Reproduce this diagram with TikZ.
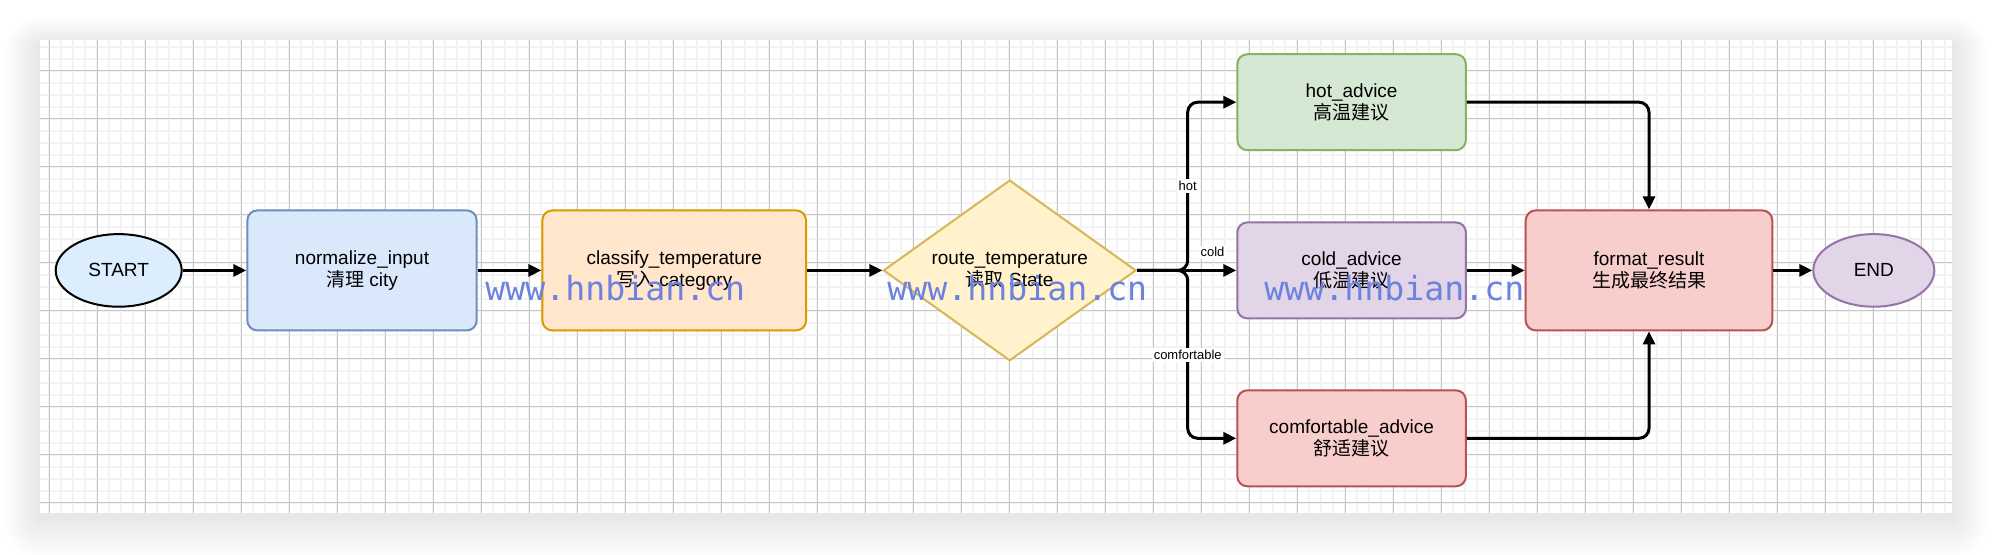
\documentclass[tikz,border=0pt]{standalone}
\usepackage{fontspec}
\setmainfont{Liberation Sans}
\newfontfamily\cjk{Noto Sans CJK SC}
\newfontfamily\wmfont{DejaVu Sans Mono}
\usetikzlibrary{shapes.geometric,arrows.meta,calc}
\definecolor{startfill}{HTML}{DCEEFD}
\definecolor{bluefill}{HTML}{DAE8FC}\definecolor{bluedraw}{HTML}{6C8EBF}
\definecolor{orfill}{HTML}{FFE6CC}\definecolor{ordraw}{HTML}{D79B00}
\definecolor{yefill}{HTML}{FFF2CC}\definecolor{yedraw}{HTML}{D6B656}
\definecolor{grfill}{HTML}{D5E8D4}\definecolor{grdraw}{HTML}{82B366}
\definecolor{pufill}{HTML}{E1D5E7}\definecolor{pudraw}{HTML}{9673A6}
\definecolor{refill}{HTML}{F8CECC}\definecolor{redraw}{HTML}{B85450}
\definecolor{gridmajor}{HTML}{C6C6C6}
\definecolor{gridminor}{HTML}{F3F3F3}
\definecolor{wm}{RGB}{108,130,222}
\begin{document}
\begin{tikzpicture}[x=0.5pt,y=-0.5pt,
  mainfont/.style={font=\fontsize{9.5}{11.2}\selectfont},
  box/.style={draw, rounded corners=5pt, line width=1pt, align=center,
    inner sep=0pt, mainfont},
  oval/.style={ellipse, draw, line width=1pt, inner sep=0pt, mainfont},
  edge/.style={line width=1.5pt, -{Triangle[length=6.5pt,width=6pt]}},
  elabel/.style={fill=white, inner sep=1pt, font=\fontsize{6.5}{7.8}\selectfont},
  wmark/.style={anchor=base west, inner sep=0pt, text=wm,
    font=\wmfont\fontsize{16.6}{18}\selectfont}]
\useasboundingbox (0,0) rectangle (1992,554);
\fill[white] (0,0) rectangle (1992,554);
% soft shadow of the panel
\foreach \k in {1,...,24}
  \fill[black, opacity=0.0045, rounded corners={0.8pt*\k}]
    ({40-1.5*\k},{46-1.2*\k}) rectangle ({1952+1.5*\k},{516+1.8*\k});
\fill[white] (40,40) rectangle (1952,513.3);
\begin{scope}
  \clip (40,40) rectangle (1952,513.3);
  \foreach \i in {0,...,158} \draw[gridminor, line width=0.9pt] ({49.3+12*\i},40) -- ({49.3+12*\i},513.3);
  \foreach \i in {0,...,38} \draw[gridminor, line width=0.9pt] (40,{46.7+12*\i}) -- (1952,{46.7+12*\i});
  \foreach \i in {0,...,39} \draw[gridmajor, line width=0.5pt] ({49.3+48*\i},40) -- ({49.3+48*\i},513.3);
  \foreach \i in {0,...,9} \draw[gridmajor, line width=0.5pt] (40,{70.7+48*\i}) -- (1952,{70.7+48*\i});
\end{scope}
% nodes
\node[oval, fill=startfill, draw=black, minimum width=63pt, minimum height=36.3pt] (start) at (118.7,270.4) {START};
\node[box, fill=bluefill, draw=bluedraw, minimum width=114.7pt, minimum height=60pt] (norm) at (362,270.4) {normalize\_input\\{\cjk 清理} city};
\node[box, fill=orfill, draw=ordraw, minimum width=131.85pt, minimum height=60pt] (cls) at (674.2,270.4) {classify\_temperature\\{\cjk 写入} category};
\node[diamond, aspect=1.4, draw=yedraw, fill=yefill, line width=1pt, inner sep=0pt, align=center, mainfont,
  minimum width=126.35pt, minimum height=90.35pt] (route) at (1009.7,270.4) {route\_temperature\\{\cjk 读取} State};
\node[box, fill=grfill, draw=grdraw, minimum width=114.2pt, minimum height=48pt] (hot) at (1351.6,102.2) {hot\_advice\\{\cjk 高温建议}};
\node[box, fill=pufill, draw=pudraw, minimum width=114.3pt, minimum height=48pt] (cold) at (1351.6,270.4) {cold\_advice\\{\cjk 低温建议}};
\node[box, fill=refill, draw=redraw, minimum width=114.3pt, minimum height=48pt] (comf) at (1351.6,438.3) {comfortable\_advice\\{\cjk 舒适建议}};
\node[box, fill=refill, draw=redraw, minimum width=123.3pt, minimum height=60pt] (fmt) at (1649,270.4) {format\_result\\{\cjk 生成最终结果}};
\node[oval, fill=pufill, draw=pudraw, minimum width=60.5pt, minimum height=36.3pt] (end) at (1873.8,270.4) {END};
% connectors
\coordinate (br) at (1187.7,270.4);
\draw[edge] (start) -- (norm);
\draw[edge] (norm) -- (cls);
\draw[edge] (cls) -- (route);
\draw[edge, rounded corners=5pt] (route.east) -- (br) |- (hot.west);
\draw[edge, rounded corners=5pt] (route.east) -- (br) |- (comf.west);
\draw[edge] (route.east) -- (cold.west);
\draw[edge, rounded corners=5pt] (hot.east) -| (fmt.north);
\draw[edge, rounded corners=5pt] (comf.east) -| (fmt.south);
\draw[edge] (cold.east) -- (fmt.west);
\draw[edge] (fmt.east) -- (end.west);
% edge labels
\node[elabel] (lhot) at (1187.7,186) {hot};
\node[elabel] (lcold) at (1212.5,252.3) {cold};
\node[elabel] (lcomf) at (1187.7,355) {comfortable};
% watermark
\node[wmark] (wm1) at (485,300) {www.hnbian.cn};
\node[wmark] (wm2) at (887,300) {www.hnbian.cn};
\node[wmark] (wm3) at (1264,300) {www.hnbian.cn};
\end{tikzpicture}
\end{document}
